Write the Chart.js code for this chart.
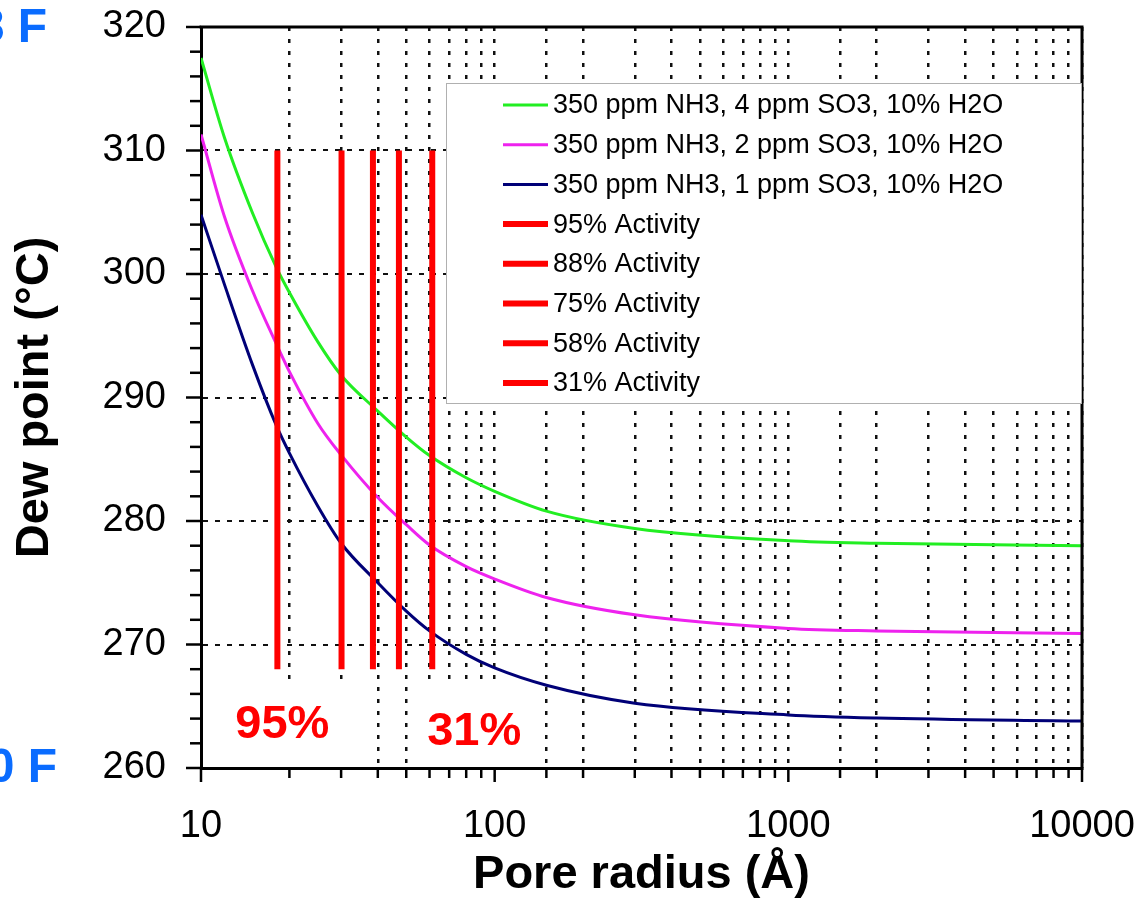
<!DOCTYPE html>
<html>
<head>
<meta charset="utf-8">
<script src="https://cdn.jsdelivr.net/npm/chart.js@4.4.0/dist/chart.umd.min.js"></script>
<style>
    html, body { margin: 0; padding: 0; background: #fff; overflow: hidden; }
    #wrap { width: 1141px; height: 903px; }
</style>
</head>
<body>
<div id="wrap"><canvas id="chart" width="1141" height="903"></canvas></div>
<script>
//? data
const poreRadius = [10, 12, 15, 18, 20, 25, 30, 40, 50, 60, 80, 100, 150, 300, 1000, 2000, 10000];
const dew4ppm = [317.5, 311.1, 304.9, 300.6, 298.5, 294.5, 291.8, 288.9, 286.8, 285.3, 283.5, 282.4, 280.8, 279.4, 278.4, 278.2, 278.0];
const dew2ppm = [311.3, 304.7, 298.6, 294.4, 292.1, 287.9, 285.35, 281.9, 279.7, 278.05, 276.3, 275.3, 273.8, 272.4, 271.3, 271.1, 270.9];
const dew1ppm = [304.8, 299.2, 292.6, 287.8, 285.5, 281.2, 278.2, 275.0, 272.7, 271.1, 269.2, 268.1, 266.7, 265.25, 264.3, 264.05, 263.8];
const seriesLabels = ['350 ppm NH3, 4 ppm SO3, 10% H2O', '350 ppm NH3, 2 ppm SO3, 10% H2O', '350 ppm NH3, 1 ppm SO3, 10% H2O'];
const seriesColors = ['#22ee22', '#ee22ee', '#000077'];

const activityLabels = ['95% Activity', '88% Activity', '75% Activity', '58% Activity', '31% Activity'];
const activityRadius = [18.2, 30.1, 38.5, 47.2, 61.3];
const activitySpan = [268, 310];

const yTicks = [260, 270, 280, 290, 300, 310, 320];
const xTickLabels = [10, 100, 1000, 10000];
const activityNotes = ['95%', '31%'];
const fahrenheitNotes = ['608 F', '500 F'];

const FONT = "'Liberation Sans', Arial, Helvetica, sans-serif";
Chart.defaults.font.family = FONT;
Chart.defaults.color = '#000';

/* -------------------------------------------------------------------------- */

const datasets = [];
[dew4ppm, dew2ppm, dew1ppm].forEach((values, i) => {
    datasets.push({
        type: 'line',
        label: seriesLabels[i],
        data: values.map((v, j) => ({ x: poreRadius[j], y: v })),
        borderColor: seriesColors[i],
        backgroundColor: seriesColors[i],
        borderWidth: 3,
        pointRadius: 0,
        cubicInterpolationMode: 'monotone',
        fill: false,
        order: 1
    });
});
activityRadius.forEach((r, i) => {
    datasets.push({
        type: 'line',
        label: activityLabels[i],
        data: activitySpan.map(v => ({ x: r, y: v })),
        borderColor: '#ff0000',
        backgroundColor: '#ff0000',
        borderWidth: 6,
        borderCapStyle: 'butt',
        pointRadius: 0,
        fill: false,
        order: 0
    });
});

const isMajorX = v => xTickLabels.includes(Math.round(v));

var chart = new Chart('chart', {
    data: { datasets: datasets },
    options: {
        responsive: false,
        animation: false,
        devicePixelRatio: 1,
        layout: { padding: { left: 0, right: 59, top: 27, bottom: 0 } },
        scales: {
            x: {
                type: 'logarithmic',
                position: 'bottom',
                min: 10,
                max: 10000,
                afterFit: (scale) => {
                    scale.height = 135;
                    scale.paddingLeft = 0;
                    scale.paddingRight = 0;
                },
                ticks: {
                    autoSkip: false,
                    maxRotation: 0,
                    padding: 36,
                    font: { size: 38 },
                    callback: (v) => isMajorX(v) ? String(Math.round(v)) : ''
                },
                grid: { color: '#111', lineWidth: 2.5, drawTicks: false },
                border: { display: true, color: '#000', width: 3, dash: [4, 8] },
                title: {
                    display: true,
                    text: 'Pore radius (Å)',
                    font: { size: 47, weight: 'bold' },
                    padding: { top: 0, bottom: 0 }
                }
            },
            y: {
                min: 260,
                max: 320,
                afterFit: (scale) => {
                    scale.width = 201;
                    scale.paddingTop = 0;
                    scale.paddingBottom = 0;
                },
                ticks: {
                    stepSize: 2,
                    autoSkip: false,
                    padding: 35,
                    font: { size: 38 },
                    callback: (v) => yTicks.includes(v) ? String(v) : ''
                },
                grid: {
                    color: (ctx) => (ctx.tick && ctx.tick.value % 10 === 0) ? '#111' : 'rgba(0,0,0,0)',
                    lineWidth: 2,
                    drawTicks: false
                },
                border: { display: true, color: '#000', width: 3, dash: [5, 7] },
                title: {
                    display: true,
                    text: 'Dew point (°C)',
                    font: { size: 47, weight: 'bold' },
                    padding: { top: 7, bottom: 0 }
                }
            }
        },
        plugins: {
            legend: { display: false },
            tooltip: { enabled: false }
        }
    },
    plugins: [{
        //! white patches behind the big red notes (they hide the grid)
        id: 'noteBackground',
        beforeDatasetsDraw: (chart) => {
            const { ctx } = chart;
            ctx.save();
            ctx.fillStyle = '#fff';
            ctx.fillRect(206, 679, 150, 86);
            ctx.fillRect(412, 682, 128, 83);
            ctx.restore();
        }
    }, {
        id: 'frameAndNotes',
        afterDraw: (chart) => {
            const { ctx, chartArea } = chart;
            const xs = chart.scales.x;
            const ys = chart.scales.y;
            ctx.save();

            // top + right frame
            ctx.strokeStyle = '#000';
            ctx.lineWidth = 3;
            ctx.beginPath();
            ctx.moveTo(chartArea.left - 1.5, chartArea.top);
            ctx.lineTo(chartArea.right, chartArea.top);
            ctx.lineTo(chartArea.right, chartArea.bottom);
            ctx.stroke();

            // tick marks
            ctx.lineWidth = 2.5;
            xs.ticks.forEach(t => {
                const px = xs.getPixelForValue(t.value);
                const len = isMajorX(t.value) ? 14 : 10;
                ctx.beginPath();
                ctx.moveTo(px, chartArea.bottom);
                ctx.lineTo(px, chartArea.bottom + len);
                ctx.stroke();
            });
            ys.ticks.forEach(t => {
                const py = ys.getPixelForValue(t.value);
                const len = yTicks.includes(t.value) ? 15 : 11;
                ctx.beginPath();
                ctx.moveTo(chartArea.left, py);
                ctx.lineTo(chartArea.left - len, py);
                ctx.stroke();
            });

            // big red notes
            ctx.fillStyle = '#ff0000';
            ctx.font = 'bold 47px ' + FONT;
            ctx.textAlign = 'center';
            ctx.textBaseline = 'alphabetic';
            ctx.fillText(activityNotes[0], xs.getPixelForValue(activityRadius[0]) + 5, 738);
            ctx.fillText(activityNotes[1], xs.getPixelForValue(activityRadius[4]) + 42, 745);

            // cropped fahrenheit notes at the left edge
            ctx.fillStyle = '#0a6cff';
            ctx.font = 'bold 48px ' + FONT;
            ctx.textAlign = 'right';
            ctx.fillText(fahrenheitNotes[0], 47, ys.getPixelForValue(320) + 15);
            ctx.fillText(fahrenheitNotes[1], 57, ys.getPixelForValue(260) + 14);

            //! legend box
            ctx.fillStyle = '#fff';
            ctx.fillRect(446, 83, 635, 320);
            ctx.strokeStyle = '#b0b0b0';
            ctx.lineWidth = 1;
            ctx.strokeRect(446.5, 83.5, 635, 320);
            ctx.font = '27px ' + FONT;
            ctx.textAlign = 'left';
            ctx.textBaseline = 'middle';
            chart.data.datasets.forEach((ds, i) => {
                const y = 105 + i * 39.7;
                ctx.strokeStyle = ds.borderColor;
                ctx.lineWidth = ds.borderWidth;
                ctx.beginPath();
                ctx.moveTo(503, y);
                ctx.lineTo(548, y);
                ctx.stroke();
                ctx.fillStyle = '#000';
                ctx.fillText(ds.label, 553, y + 1);
            });
            ctx.restore();
        }
    }]
});
</script>
</body>
</html>
